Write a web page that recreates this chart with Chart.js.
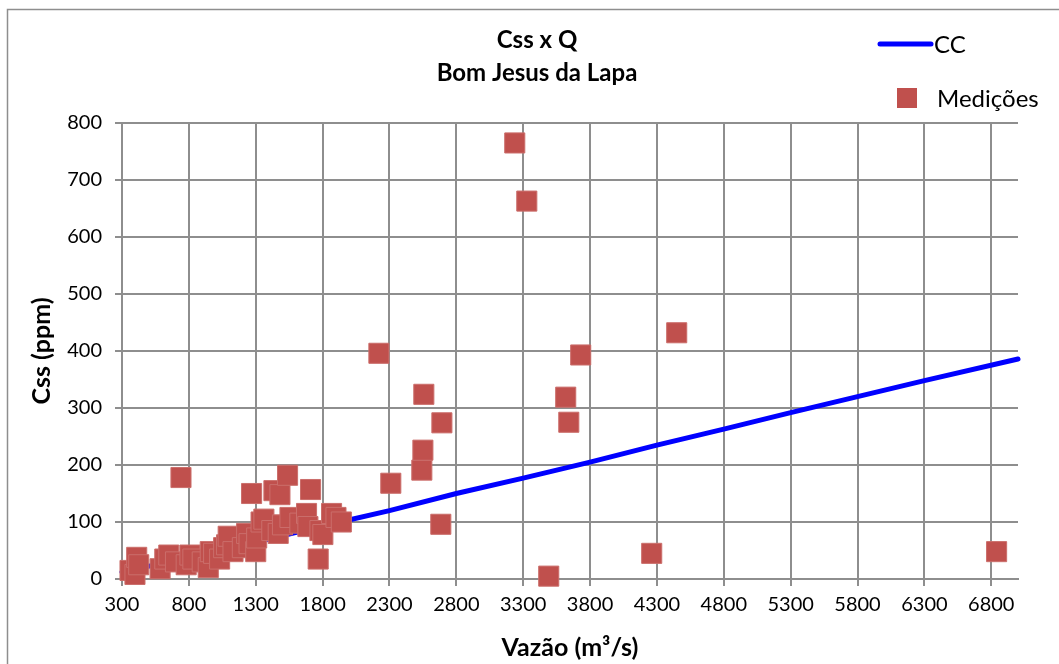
<!DOCTYPE html>
<html>
<head>
<meta charset="utf-8">
<script src="https://cdn.jsdelivr.net/npm/chart.js@4.4.0/dist/chart.umd.min.js"></script>
<style>
  html, body { margin: 0; padding: 0; background: #fff; }
  #wrap { width: 1059px; height: 664px; }
</style>
</head>
<body>
<div id="wrap"><canvas id="cssChart" width="1059" height="664"></canvas></div>
<script>
// Medições (vazão x concentração)
const qMedicoes = [360, 397, 410, 425, 585, 620, 650, 700, 741, 780, 808, 830, 900, 945, 960, 985,
    1030, 1060, 1082, 1094, 1130, 1200, 1232, 1250, 1269, 1300, 1307, 1340, 1361, 1420, 1436, 1468,
    1481, 1500, 1538, 1556, 1630, 1680, 1690, 1710, 1767, 1780, 1802, 1867, 1900, 1940, 2221, 2310,
    2542, 2550, 2557, 2684, 2692, 3237, 3327, 3491, 3618, 3641, 3730, 4261, 4448, 6840];
const cssMedicoes = [15, 8, 38, 25, 18, 35, 42, 30, 178, 25, 42, 35, 30, 20, 48, 45,
    35, 55, 60, 75, 48, 55, 80, 62, 150, 48, 72, 100, 105, 85, 155, 80,
    148, 95, 182, 108, 98, 115, 92, 157, 35, 85, 78, 115, 108, 100, 396, 168,
    191, 226, 324, 96, 274, 765, 663, 5, 319, 275, 393, 45, 432, 48];

// Curva-chave de sedimentos (CC)
const qCurva = [300, 800, 1300, 1800, 2300, 2800, 3300, 3800, 4300, 4800, 5300, 5800, 6300, 7000];
const cssCurva = [12, 38, 65, 93, 120, 150, 177, 205, 235, 263, 292, 320, 348, 386];

const xTicks = [300, 800, 1300, 1800, 2300, 2800, 3300, 3800, 4300, 4800, 5300, 5800, 6300, 6800];
const yTicks = [0, 100, 200, 300, 400, 500, 600, 700, 800];

const FONT = 'Lato, "Liberation Sans", sans-serif';
const GRID = '#8e8e8e';

const toPoints = (xs, ys) => xs.map((x, i) => ({ x: x, y: ys[i] }));

const extras = {
    id: 'extras',
    afterDraw(chart) {
        const c = chart.ctx;
        c.save();
        // borda do gráfico
        c.strokeStyle = '#8e8e8e';
        c.lineWidth = 1.5;
        c.strokeRect(7.5, 9.5, 1070, 680);

        // título
        c.fillStyle = '#000';
        c.textAlign = 'center';
        c.textBaseline = 'middle';
        c.font = 'bold 24px ' + FONT;
        c.fillText('Css x Q', 537, 40);
        c.fillText('Bom Jesus da Lapa', 537, 73);

        // legenda
        const ds = chart.data.datasets;
        c.strokeStyle = ds[1].borderColor;
        c.lineWidth = 5;
        c.lineCap = 'round';
        c.beginPath();
        c.moveTo(880, 44);
        c.lineTo(931, 44);
        c.stroke();
        c.fillStyle = ds[0].backgroundColor;
        c.fillRect(897, 88, 20, 20);
        c.fillStyle = '#000';
        c.textAlign = 'left';
        c.font = '24px ' + FONT;
        c.fillText(ds[1].label, 934, 45);
        c.fillText(ds[0].label, 937, 99);
        c.restore();
    }
};

new Chart(document.getElementById('cssChart'), {
    type: 'scatter',
    data: {
        datasets: [{
            label: 'Medições',
            data: toPoints(qMedicoes, cssMedicoes),
            pointStyle: 'rect',
            pointRadius: 14.2,
            backgroundColor: '#C0504D',
            borderColor: '#CB6E6B',
            borderWidth: 1,
            clip: false,
            order: 0
        }, {
            label: 'CC',
            type: 'line',
            data: toPoints(qCurva, cssCurva),
            borderColor: '#0000FF',
            borderWidth: 5,
            borderCapStyle: 'round',
            pointRadius: 0,
            fill: false,
            clip: false,
            order: 1
        }]
    },
    options: {
        responsive: false,
        animation: false,
        layout: { padding: { top: 123, right: 41, left: 0, bottom: 0 } },
        plugins: {
            legend: { display: false },
            title: { display: false },
            tooltip: { enabled: false }
        },
        scales: {
            x: {
                type: 'linear',
                min: 300,
                max: 7000,
                afterBuildTicks: (axis) => { axis.ticks = xTicks.map(v => ({ value: v })); },
                afterFit: (scale) => { scale.height = 85; },
                grid: { color: GRID, lineWidth: 2, tickLength: 7 },
                border: { color: GRID, width: 2 },
                ticks: {
                    color: '#000', font: { family: FONT, size: 20 }, padding: 7, maxRotation: 0,
                    callback: (v) => String(v)
                },
                title: {
                    display: true,
                    text: 'Vazão (m³/s)',
                    color: '#000',
                    font: { family: FONT, size: 25, weight: 'bold' },
                    padding: { top: 0, bottom: 1 }
                }
            },
            y: {
                min: 0,
                max: 800,
                afterBuildTicks: (axis) => { axis.ticks = yTicks.map(v => ({ value: v })); },
                afterFit: (scale) => { scale.width = 122; },
                grid: { color: GRID, lineWidth: 2, tickLength: 7 },
                border: { color: GRID, width: 2 },
                ticks: {
                    color: '#000', font: { family: FONT, size: 20 }, padding: 13,
                    callback: (v) => String(v)
                },
                title: {
                    display: true,
                    text: 'Css (ppm)',
                    color: '#000',
                    font: { family: FONT, size: 25, weight: 'bold' },
                    padding: { top: 27, bottom: 0 }
                }
            }
        }
    },
    plugins: [extras]
});
</script>
</body>
</html>
